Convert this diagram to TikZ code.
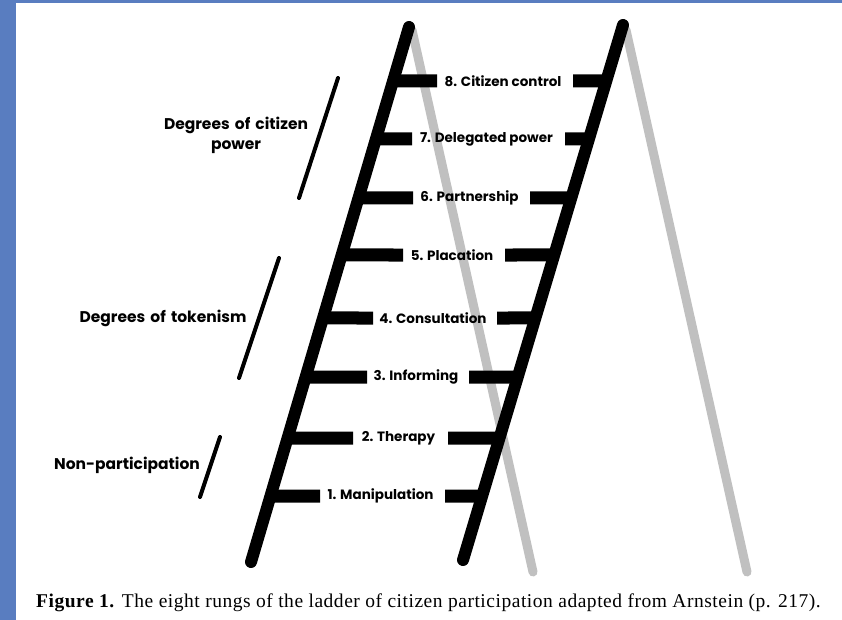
\documentclass[tikz,border=0pt]{standalone}
\usepackage{fontspec}
\setmainfont{Liberation Serif}
\setsansfont{Poppins}
\usetikzlibrary{calc}
\definecolor{frameblue}{RGB}{89,125,192}
\definecolor{leggrey}{RGB}{192,192,192}
\tikzset{
  rail/.style={line width=12pt,line cap=round,black},
  leg/.style={line width=9pt,line cap=round,leggrey},
  rungbar/.style={line width=13pt,black},
  bracket/.style={line width=4pt,line cap=round,black},
  runglabel/.style={font=\sffamily\bfseries\fontsize{13.5}{15}\selectfont,inner sep=0pt},
  grouplabel/.style={font=\sffamily\bfseries\fontsize{15.5}{20}\selectfont,inner sep=0pt,align=center,text width=200pt},
}
\begin{document}
\begin{tikzpicture}[x=1pt,y=-1pt]
\useasboundingbox (0,0) rectangle (842,620);
\fill[white] (0,0) rectangle (842,620);
\fill[frameblue] (0,0) rectangle (16,620);
\fill[frameblue] (0,0) rectangle (842,3);
% grey back legs
\coordinate (Gla) at (412,30); \coordinate (Glb) at (533,572);
\coordinate (Gra) at (626,30); \coordinate (Grb) at (747,572);
\draw[leg] (Gla) -- (Glb);
\draw[leg] (Gra) -- (Grb);
% rails
\coordinate (Lt) at (409,27); \coordinate (Lb) at (251,562);
\coordinate (Rt) at (623,25); \coordinate (Rb) at (463,560);
\draw[rail] (Lt) -- (Lb);
\draw[rail] (Rt) -- (Rb);
% rungs
\foreach \n/\y/\txt/\a/\b in {
  8/81/{8. Citizen control}/437/573,
  7/139/{7. Delegated power}/412/565,
  6/198/{6. Partnership}/413/530,
  5/255/{5. Placation}/403/505,
  4/318/{4. Consultation}/373/497,
  3/377/{3. Informing}/367/469,
  2/438/{2. Therapy}/353/448,
  1/496/{1. Manipulation}/320/445}{
  \node[runglabel] (r\n) at ({(\a+\b)/2-2},\y) {\txt};
  \coordinate (rl\n) at (\a,\y);
  \coordinate (rr\n) at (\b,\y);
  \draw[rungbar] ($(Lt)!{(\y-27)/535}!(Lb)$) -- (rl\n);
  \draw[rungbar] (rr\n) -- ($(Rt)!{(\y-25)/535}!(Rb)$);
}
% group brackets
\coordinate (b1a) at (338,78);  \coordinate (b1b) at (299,198);
\coordinate (b2a) at (279,258); \coordinate (b2b) at (239,378);
\coordinate (b3a) at (220,437); \coordinate (b3b) at (200,497);
\draw[bracket] (b1a) -- (b1b);
\draw[bracket] (b2a) -- (b2b);
\draw[bracket] (b3a) -- (b3b);
\node[grouplabel] (g1) at (236,135) {Degrees of citizen\\power};
\node[grouplabel] (g2) at (163,318) {Degrees of tokenism};
\node[grouplabel] (g3) at (127,465) {Non-participation};
% caption
\node[anchor=base west,inner sep=0pt,font=\fontsize{19.5}{22}\selectfont\addfontfeature{LetterSpace=2.7}] (cap) at (36,607)
  {\textbf{Figure 1.} The eight rungs of the ladder of citizen participation adapted from Arnstein (p. 217).};
\end{tikzpicture}
\end{document}
